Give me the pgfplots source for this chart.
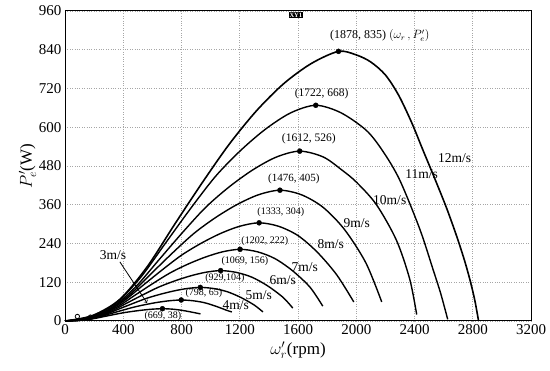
\documentclass[border=0pt]{standalone}
\usepackage{fontspec}
\setmainfont{Liberation Serif}
\usepackage{pgfplots}
\pgfplotsset{compat=1.18}
\begin{document}
\begin{tikzpicture}
\begin{axis}[
 width=466pt, height=310pt, scale only axis,
 xmin=0, xmax=3200, ymin=0, ymax=960,
 xtick={0,400,...,3200}, ytick={0,120,...,960},
 grid=major, major grid style={gray!70, dotted, line width=0.7pt},
 axis line style={line width=1pt},
 major tick length=0pt,
 tick label style={font=\fontsize{15}{17}\selectfont},
 /pgf/number format/assume math mode=true,
 /pgf/number format/set thousands separator={},
 scaled ticks=false,
 xlabel={$\omega'_r$(rpm)}, ylabel={$P'_e$(W)},
 label style={font=\fontsize{17}{19}\selectfont},
 ylabel style={yshift=-4pt},
 curve/.style={black, line width=1.4pt, smooth, tension=0.5, no markers},
 clip=false,
]
% 3 m/s
\addplot[curve] coordinates {(0,0) (67,0.8) (134,3) (201,7.6) (268,13.7) (335,19.8) (401,25.5) (468,30) (535,33.8) (602,36.7) (669,38) (736,36.7) (803,33) (870,27.5) (930,22)};
% 4 m/s
\addplot[curve] coordinates {(0,0) (80,1.3) (160,5.2) (239,13) (319,23.4) (399,33.8) (479,43.6) (559,51.4) (638,57.9) (718,62.7) (798,65) (878,62.7) (958,56.6) (1037,45.5) (1117,32) (1146,28)};
% 5 m/s
\addplot[curve] coordinates {(0,0) (93,2.1) (186,8.3) (279,20.8) (372,37.4) (465,54) (557,69.7) (650,82.2) (743,92.6) (836,100.4) (929,104) (1022,100.4) (1115,90.5) (1208,72.8) (1301,48.9) (1359,28)};
% 6 m/s
\addplot[curve] coordinates {(0,0) (107,3.1) (214,12.5) (321,31.2) (428,56.2) (535,81.1) (641,104.5) (748,123.2) (855,138.8) (962,150.5) (1069,156) (1176,150.5) (1283,135.7) (1390,109.2) (1497,73.3) (1564,40)};
% 7 m/s
\addplot[curve] coordinates {(0,0) (120,4.4) (240,17.8) (361,44.4) (481,79.9) (601,115.4) (721,148.7) (841,175.4) (962,197.6) (1082,214.2) (1202,222) (1322,214.2) (1442,193.1) (1563,155.4) (1683,104.3) (1770,46)};
% 8 m/s
\addplot[curve] coordinates {(0,0) (133,6.1) (267,24.3) (400,60.8) (533,109.4) (667,158.1) (800,203.7) (933,240.2) (1066,270.6) (1200,293.4) (1333,304) (1466,293.4) (1600,264.5) (1733,212.8) (1866,142.9) (1983,59)};
% 9 m/s
\addplot[curve] coordinates {(0,0) (148,8.1) (295,32.4) (443,81) (590,145.8) (738,210.6) (886,271.4) (1033,320) (1181,360.5) (1328,390.8) (1476,405) (1624,390.8) (1771,352.4) (1919,283.5) (2066,180) (2175,59)};
% 10 m/s
\addplot[curve] coordinates {(0,0) (161,10.5) (322,42.1) (484,105.2) (645,189.4) (806,273.5) (967,352.4) (1128,415.5) (1290,468.1) (1451,507.6) (1612,526) (1773,508) (1900,468) (2001,430) (2139,360) (2276,250) (2367,130) (2415,20)};
% 11 m/s
\addplot[curve] coordinates {(0,0) (172,13.4) (344,53.4) (517,133.6) (689,240.5) (861,347.4) (1033,447.6) (1205,527.7) (1378,594.5) (1550,644.6) (1722,668) (1894,645) (2070,590) (2184,525) (2298,437) (2436,285) (2527,160) (2580,85) (2628,5)};
% 12 m/s
\addplot[curve, line width=1.6pt] coordinates {(0,0) (188,16.7) (376,66.8) (563,167) (751,298) (939,426) (1127,547) (1315,651) (1502,735) (1690,797) (1878,835) (2000,824) (2100,802) (2200,762) (2290,700) (2380,615) (2460,527) (2540,440) (2620,350) (2690,262) (2745,185) (2785,120) (2815,62) (2840,0)};
% peaks
\addplot[only marks, mark=*, mark size=2.5pt, black] coordinates {(669,38) (798,65) (929,104) (1069,156) (1202,222) (1333,304) (1476,405) (1612,526) (1722,668) (1878,835)};
% small open circles near origin
\addplot[only marks, mark=o, mark size=2.2pt, black, line width=0.8pt] coordinates {(85,14) (175,12)};

% labels
\node[font=\fontsize{12}{14}\selectfont] at (axis cs:2161,883) {(1878, 835) $(\omega_r\,,P'_e)$};
\node[font=\fontsize{11.5}{13}\selectfont] at (axis cs:1763,703) {(1722, 668)};
\node[font=\fontsize{11.5}{13}\selectfont] at (axis cs:1674,564) {(1612, 526)};
\node[font=\fontsize{11}{12}\selectfont] at (axis cs:1571,440) {(1476, 405)};
\node[font=\fontsize{10}{11}\selectfont] at (axis cs:1482,338) {(1333, 304)};
\node[font=\fontsize{10}{11}\selectfont] at (axis cs:1372,248) {(1202, 222)};
\node[font=\fontsize{10}{11}\selectfont] at (axis cs:1235,186) {(1069, 156)};
\node[font=\fontsize{10}{11}\selectfont] at (axis cs:1098,133) {(929,104)};
\node[font=\fontsize{10}{11}\selectfont] at (axis cs:954,87) {(798, 65)};
\node[font=\fontsize{10}{11}\selectfont] at (axis cs:672,15) {(669, 38)};

\node[font=\fontsize{13.5}{15}\selectfont] at (axis cs:2676,505) {12m/s};
\node[font=\fontsize{13.5}{15}\selectfont] at (axis cs:2449,455) {11m/s};
\node[font=\fontsize{13.5}{15}\selectfont] at (axis cs:2230,375) {10m/s};
\node[font=\fontsize{13.5}{15}\selectfont] at (axis cs:2003,303) {9m/s};
\node[font=\fontsize{13.5}{15}\selectfont] at (axis cs:1825,238) {8m/s};
\node[font=\fontsize{13.5}{15}\selectfont] at (axis cs:1647,167) {7m/s};
\node[font=\fontsize{13.5}{15}\selectfont] at (axis cs:1496,127) {6m/s};
\node[font=\fontsize{13.5}{15}\selectfont] at (axis cs:1331,81) {5m/s};
\node[font=\fontsize{13.5}{15}\selectfont] at (axis cs:1173,50) {4m/s};
\node[font=\fontsize{13.5}{15}\selectfont] at (axis cs:329,204) {3m/s};
\draw[->, line width=0.8pt] (axis cs:377,183) -- (axis cs:563,56);

\node[fill=black, text=white, inner sep=1pt, font=\fontsize{6.5}{6.5}\bfseries\selectfont] at (axis cs:1585,948) {XY1};
\end{axis}
\pgfresetboundingbox
\path ([xshift=-65pt,yshift=-50pt]current axis.south west) rectangle ([xshift=19pt,yshift=11pt]current axis.north east);
\end{tikzpicture}
\end{document}
